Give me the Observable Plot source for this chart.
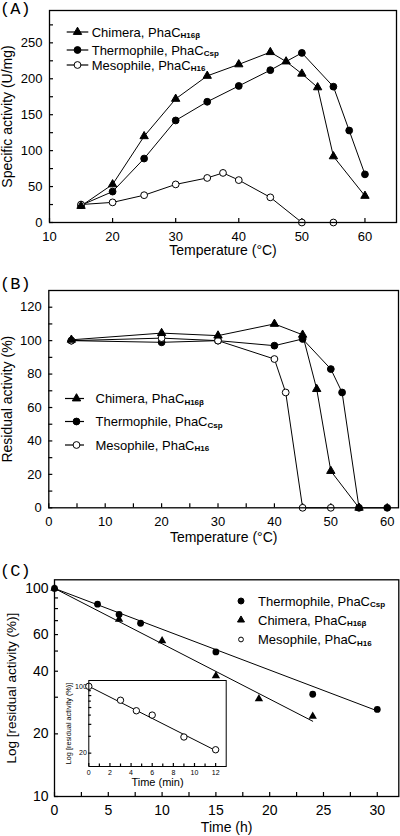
<!DOCTYPE html>
<html>
<head>
<meta charset="utf-8">
<script src="https://cdn.jsdelivr.net/npm/d3@7"></script>
<script src="https://cdn.jsdelivr.net/npm/@observablehq/plot@0.6"></script>
<style>
  html, body { margin: 0; padding: 0; background: #fff; }
  #root { position: relative; width: 400px; height: 836px; background: #fff; overflow: hidden; font-family: "Liberation Sans", Arial, sans-serif; }
  .plab { position: absolute; left: 0; font-family: "Liberation Mono", "Courier New", monospace; font-size: 17px; line-height: 1; color: #000; }
</style>
</head>
<body>
<div id="root"></div>
<script>
// ---------------- DATA ----------------
// Panel A: specific activity (U/mg) vs temperature (°C)
const tempA_chimera = [15, 20, 25, 30, 35, 40, 45, 47.5, 50, 52.5, 55, 60];
const actA_chimera  = [23, 53, 120, 172, 204, 220, 237, 224, 207, 188, 92, 37];
const tempA_thermo  = [15, 20, 25, 30, 35, 40, 45, 50, 55, 57.5, 60];
const actA_thermo   = [24, 43, 89, 142, 168, 190, 212, 236, 189, 128, 67];
const tempA_meso    = [15, 20, 25, 30, 35, 37.5, 40, 45, 50, 55];
const actA_meso     = [25, 28, 38, 53, 62, 69, 59, 35, 0, 0];

// Panel B: residual activity (%) vs temperature (°C)
const tempB_chimera = [4, 20, 30, 40, 45, 47.5, 50, 55];
const resB_chimera  = [100.5, 104.5, 103, 110, 103.5, 71, 22, 0];
const tempB_thermo  = [4, 20, 30, 40, 45, 50, 52, 55, 60];
const resB_thermo   = [100, 99, 100, 97, 101, 83, 69, 0, 0];
const tempB_meso    = [4, 20, 30, 40, 42, 45, 50];
const resB_meso     = [100, 101.5, 100, 89, 69, 0, 0];

// Panel C: log residual activity (%) vs time (h)
const timeC_thermo  = [0, 4, 6, 8, 15, 24, 30];
const resC_thermo   = [100, 84, 75, 68, 49.5, 31, 26.2];
const timeC_chimera = [0, 6, 10, 15, 19, 24];
const resC_chimera  = [100, 71, 56, 38, 29.5, 24.3];
const fitC_thermo_t = [0, 30];
const fitC_thermo_v = [100, 25.8];
const fitC_chimera_t = [0, 24];
const fitC_chimera_v = [100, 23];

// Inset: mesophile, time (min)
const timeI_meso = [0, 3, 4.5, 6, 9, 12];
const resI_meso  = [100, 71.5, 55.5, 50, 29.5, 21.7];
const fitI_t = [0, 12];
const fitI_v = [100, 21.3];

// Ticks
const ticksA_x = [10, 20, 30, 40, 50, 60];
const ticksA_y = [0, 50, 100, 150, 200, 250];
const ticksA_yminor = [25, 75, 125, 175, 225, 275];
const ticksB_x = [0, 10, 20, 30, 40, 50, 60];
const ticksB_xminor = [5, 15, 25, 35, 45, 55];
const ticksB_y = [0, 20, 40, 60, 80, 100, 120];
const ticksB_yminor = [10, 30, 50, 70, 90, 110];
const ticksC_x = [0, 5, 10, 15, 20, 25, 30];
const ticksC_xminor = [2.5, 7.5, 12.5, 17.5, 22.5, 27.5];
const ticksC_y = [10, 20, 40, 60, 80, 100];
const ticksC_yminor = [30, 50, 70, 90];
const ticksI_x = [0, 2, 4, 6, 8, 10, 12];
const ticksI_xminor = [1, 3, 5, 7, 9, 11];
const ticksI_y = [20, 40, 60, 80, 100];
const ticksI_yminor = [30, 50, 70, 90];

// Labels
const nameChimera = ["Chimera, PhaC", "H16β"];
const nameThermo  = ["Thermophile, PhaC", "Csp"];
const nameMeso    = ["Mesophile, PhaC", "H16"];

// -------------- helpers --------------
const zip = (xs, ys) => xs.map((x, i) => ({x, y: ys[i]}));
const FONT = "Liberation Sans, Arial, sans-serif";
const R_TRI = 3.1, R_CIR = 3.4;

function seriesMarks(series) {
  const marks = [];
  for (const s of series) marks.push(Plot.line(s.data, {x: "x", y: "y", stroke: "black", strokeWidth: 1}));
  for (const s of series) marks.push(Plot.dot(s.data, {x: "x", y: "y", symbol: s.symbol, r: s.r, fill: s.fill, stroke: "black", strokeWidth: 1}));
  return marks;
}

function axes({xt, xm, yt, ym, fs, xPad, yPad, tick = 4, mtick = 4}) {
  const m = [];
  m.push(Plot.axisX(xt, {tickSize: -tick, tickPadding: xPad, fontSize: fs, label: null, strokeWidth: 1.2}));
  if (xm) m.push(Plot.axisX(xm, {tickSize: -mtick, tickFormat: () => "", label: null, strokeWidth: 1.2}));
  m.push(Plot.axisY(yt, {tickSize: -tick, tickPadding: yPad, fontSize: fs, label: null, strokeWidth: 1.2}));
  if (ym) m.push(Plot.axisY(ym, {tickSize: -mtick, tickFormat: () => "", label: null, strokeWidth: 1.2}));
  return m;
}

function titles(xTitle, yTitle, fs, xdy, ydx, yfs) {
  return [
    Plot.text([xTitle], {frameAnchor: "bottom", dy: xdy, lineAnchor: "top", textAnchor: "middle", fontSize: fs, fill: "black"}),
    Plot.text([yTitle], {frameAnchor: "left", dx: ydx, rotate: -90, lineAnchor: "middle", textAnchor: "middle", fontSize: yfs || fs, fill: "black"})
  ];
}

function place(el, top, left = 0) {
  el.style.position = "absolute";
  el.style.top = top + "px";
  el.style.left = left + "px";
  document.getElementById("root").appendChild(el);
  return el;
}

function addLegend(svg, items, {rows, lineX1, lineX2, markX, textX, fs = 13, subfs = 8}) {
  const g = d3.select(svg).append("g").attr("text-anchor", "start");
  items.forEach((it, i) => {
    const y = rows[i];
    if (lineX1 != null) g.append("line").attr("x1", lineX1).attr("x2", lineX2).attr("y1", y).attr("y2", y).attr("stroke", "black").attr("stroke-width", 1.2);
    const sym = it.symbol === "triangle" ? d3.symbolTriangle : d3.symbolCircle;
    g.append("path").attr("transform", `translate(${markX},${y})`)
      .attr("d", d3.symbol(sym, Math.PI * it.r * it.r)())
      .attr("fill", it.fill).attr("stroke", "black").attr("stroke-width", 1);
    const t = g.append("text").attr("x", textX).attr("y", y).attr("dy", "0.36em")
      .attr("text-anchor", "start")
      .attr("font-family", FONT).attr("font-size", fs).attr("fill", "black");
    t.append("tspan").text(it.name[0]);
    t.append("tspan").attr("font-size", subfs).attr("font-weight", "bold").attr("dy", 1.5).text(it.name[1]);
  });
}

function panelLabel(text, top) {
  const d = document.createElement("div");
  d.className = "plab";
  d.textContent = text;
  d.style.top = top + "px";
  document.getElementById("root").appendChild(d);
}

const baseStyle = {fontFamily: FONT, color: "black", background: "transparent", overflow: "visible"};

// -------------- Panel A --------------
{
  const top = 0;
  const series = [
    {data: zip(tempA_thermo, actA_thermo), symbol: "circle", fill: "black", r: R_CIR},
    {data: zip(tempA_meso, actA_meso), symbol: "circle", fill: "white", r: R_CIR},
    {data: zip(tempA_chimera, actA_chimera), symbol: "triangle", fill: "black", r: R_TRI}
  ];
  const p = Plot.plot({
    width: 400, height: 265,
    marginTop: 10, marginLeft: 49, marginRight: 4, marginBottom: 43,
    style: baseStyle,
    x: {domain: [10, 65]},
    y: {domain: [0, 295]},
    marks: [
      ...axes({xt: ticksA_x, yt: ticksA_y, ym: ticksA_yminor, fs: 13, xPad: 13, yPad: 11}),
      ...titles("Temperature (°C)", "Specific activity (U/mg)", 14, 23, -41.5),
      ...seriesMarks(series),
      Plot.frame({stroke: "black", strokeWidth: 1.3})
    ]
  });
  place(p, top);
  addLegend(p, [
    {name: nameChimera, symbol: "triangle", fill: "black", r: R_TRI},
    {name: nameThermo, symbol: "circle", fill: "black", r: R_CIR},
    {name: nameMeso, symbol: "circle", fill: "white", r: R_CIR}
  ], {rows: [32, 50, 65].map(v => v - top), lineX1: 66.7, lineX2: 88.3, markX: 77.5, textX: 91.7});
  panelLabel("(A)", top + 1);
}

// -------------- Panel B --------------
{
  const top = 275;
  const series = [
    {data: zip(tempB_thermo, resB_thermo), symbol: "circle", fill: "black", r: R_CIR},
    {data: zip(tempB_meso, resB_meso), symbol: "circle", fill: "white", r: R_CIR},
    {data: zip(tempB_chimera, resB_chimera), symbol: "triangle", fill: "black", r: R_TRI}
  ];
  const p = Plot.plot({
    width: 400, height: 275,
    marginTop: 15, marginLeft: 48.3, marginRight: 2, marginBottom: 42.7,
    style: baseStyle,
    x: {domain: [0, 62]},
    y: {domain: [0, 130]},
    marks: [
      ...axes({xt: ticksB_x, xm: ticksB_xminor, yt: ticksB_y, ym: ticksB_yminor, fs: 13, xPad: 13, yPad: 11}),
      ...titles("Temperature (°C)", "Residual activity (%)", 14, 24, -41),
      ...seriesMarks(series),
      Plot.frame({stroke: "black", strokeWidth: 1.3})
    ]
  });
  place(p, top);
  addLegend(p, [
    {name: nameChimera, symbol: "triangle", fill: "black", r: R_TRI},
    {name: nameThermo, symbol: "circle", fill: "black", r: R_CIR},
    {name: nameMeso, symbol: "circle", fill: "white", r: R_CIR}
  ], {rows: [398.5, 421.5, 445].map(v => v - top), lineX1: 65, lineX2: 84, markX: 76.5, textX: 95.5});
  panelLabel("(B)", top + 1);
}

// -------------- Panel C --------------
{
  const top = 550;
  const p = Plot.plot({
    width: 400, height: 286,
    marginTop: 29.3, marginLeft: 54, marginRight: 1.7, marginBottom: 40,
    style: baseStyle,
    x: {domain: [0, 32]},
    y: {type: "log", domain: [10, 110]},
    marks: [
      ...axes({xt: ticksC_x, xm: ticksC_xminor, yt: ticksC_y, ym: ticksC_yminor, fs: 14, xPad: 13, yPad: 10}),
      ...titles("Time (h)", "Log [residual activity (%)]", 14, 26, -42.5, 13.5),
      Plot.line(zip(fitC_thermo_t, fitC_thermo_v), {x: "x", y: "y", stroke: "black", strokeWidth: 1}),
      Plot.line(zip(fitC_chimera_t, fitC_chimera_v), {x: "x", y: "y", stroke: "black", strokeWidth: 1}),
      Plot.dot(zip(timeC_chimera, resC_chimera), {x: "x", y: "y", symbol: "triangle", r: R_TRI, fill: "black"}),
      Plot.dot(zip(timeC_thermo, resC_thermo), {x: "x", y: "y", symbol: "circle", r: R_CIR, fill: "black"}),
      Plot.frame({stroke: "black", strokeWidth: 1.3})
    ]
  });
  place(p, top);
  addLegend(p, [
    {name: nameThermo, symbol: "circle", fill: "black", r: 3.0},
    {name: nameChimera, symbol: "triangle", fill: "black", r: 2.6},
    {name: nameMeso, symbol: "circle", fill: "white", r: 2.4}
  ], {rows: [601, 620, 639.5].map(v => v - top), lineX1: null, markX: 241, textX: 258});
  panelLabel("(C)", top + 13);

  // Inset
  const inset = Plot.plot({
    width: 170, height: 120,
    marginTop: 10, marginLeft: 28.3, marginRight: 4.3, marginBottom: 24,
    style: {...baseStyle},
    x: {domain: [0, 13]},
    y: {type: "log", domain: [14.5, 115]},
    marks: [
      Plot.frame({fill: "white", stroke: "none"}),
      ...axes({xt: ticksI_x, xm: ticksI_xminor, yt: ticksI_y, ym: ticksI_yminor, fs: 7, xPad: 7, yPad: 5, tick: 3, mtick: 2.5}),
      ...titles("Time (min)", "Log [residual activity (%)]", 11, 12, -20.3, 7.3),
      Plot.line(zip(fitI_t, fitI_v), {x: "x", y: "y", stroke: "black", strokeWidth: 1}),
      Plot.dot(zip(timeI_meso, resI_meso), {x: "x", y: "y", symbol: "circle", r: 3.2, fill: "white", stroke: "black", strokeWidth: 1}),
      Plot.frame({stroke: "black", strokeWidth: 1})
    ]
  });
  place(inset, 670, 60);
}
</script>
</body>
</html>
